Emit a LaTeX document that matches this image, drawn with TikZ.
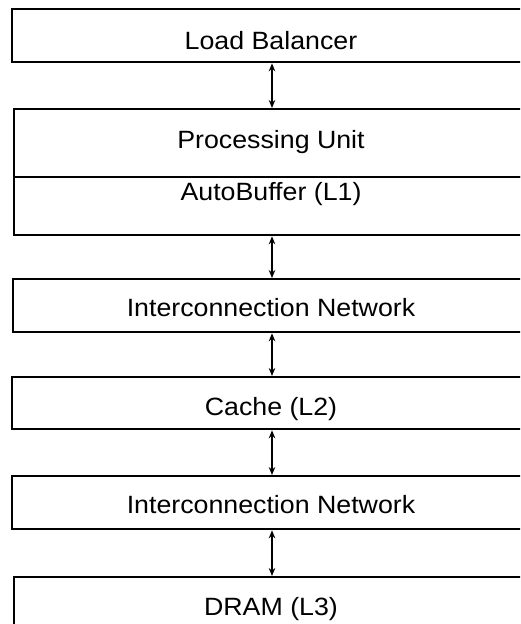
\documentclass[tikz,border=0pt]{standalone}
\usepackage{fontspec}
\setmainfont[FakeStretch=1.07]{Liberation Sans}
\usetikzlibrary{arrows.meta}
\begin{document}
\begin{tikzpicture}[x=1pt,y=-1pt,
  blk/.style={draw=black,line width=2.3pt,rectangle,anchor=north west,inner sep=0pt,minimum width=#1},
  lbl/.style={anchor=base,inner sep=0pt,font=\fontsize{25}{30}\selectfont},
  link/.style={line width=2.2pt,{Stealth[length=8pt,width=6.5pt]}-{Stealth[length=8pt,width=6.5pt]}}]
\useasboundingbox (0,0) rectangle (520,624);
\clip (0,0) rectangle (520,624);
\coordinate (ax) at (272,0);
% boxes
\node[blk=529pt,minimum height=53pt] (lb) at (11,8) {};
\node[blk=527pt,minimum height=68pt] (pu) at (13,108) {};
\node[blk=527pt,minimum height=58pt] (ab) at (13,176) {};
\node[blk=528pt,minimum height=53pt] (in1) at (12,278) {};
\node[blk=529pt,minimum height=52pt] (ca) at (11,376) {};
\node[blk=529pt,minimum height=53pt] (in2) at (11,475) {};
\node[blk=527pt,minimum height=80pt] (dr) at (13,576) {};
% labels
\node[lbl] (tlb) at (271,49) {Load Balancer};
\node[lbl] (tpu) at (271,148) {Processing Unit};
\node[lbl] (tab) at (271,200) {AutoBuffer (L1)};
\node[lbl] (tin1) at (271,316) {Interconnection Network};
\node[lbl] (tca) at (271,415) {Cache (L2)};
\node[lbl] (tin2) at (271,513) {Interconnection Network};
\node[lbl] (tdr) at (271,615) {DRAM (L3)};
% connectors
\draw[link] (lb.south -| ax) -- (pu.north -| ax);
\draw[link] (ab.south -| ax) -- (in1.north -| ax);
\draw[link] (in1.south -| ax) -- (ca.north -| ax);
\draw[link] (ca.south -| ax) -- (in2.north -| ax);
\draw[link] (in2.south -| ax) -- (dr.north -| ax);
\end{tikzpicture}
\end{document}
